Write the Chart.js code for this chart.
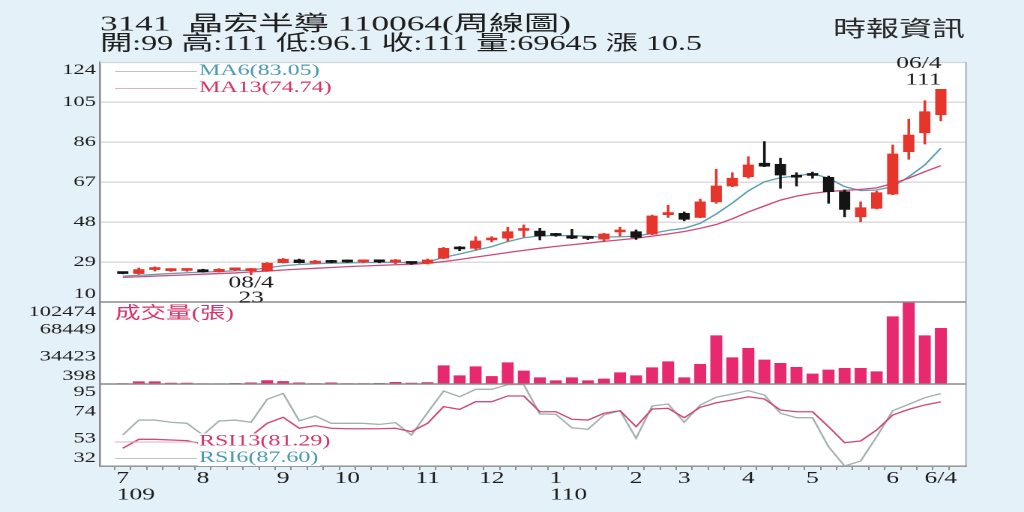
<!DOCTYPE html>
<html><head><meta charset="utf-8">
<script src="https://cdn.jsdelivr.net/npm/chart.js@4.4.1/dist/chart.umd.min.js"></script>
<style>
html,body{margin:0;padding:0;background:#e5f1f8;overflow:hidden;width:1024px;height:512px}
#wrap{position:absolute;left:0;top:0;width:683px;height:512px;transform:scaleX(1.49927);transform-origin:0 0}
canvas{display:block}
</style></head>
<body><div id="wrap"><canvas id="c" width="683" height="512"></canvas></div>
<script>
// ---------- data ----------
const monthIdx    = [0,5,10,14,19,23,27,32,35,39,43,48,51];
const monthLabels = ['7','8','9','10','11','12','1','2','3','4','5','6','6/4'];
const yearIdx     = [0,27];
const yearLabels  = ['109','110'];

const openP  = [24.0,23.5,25.4,24.9,25.0,25.2,24.4,25.3,24.9,24.9,28.7,30.0,28.5,29.5,29.8,29.1,29.2,29.0,28.6,28.4,30.8,35.8,35.5,39.5,40.3,44.0,43.7,42.0,41.4,40.5,39.9,43.3,43.4,42.3,51.5,52.1,50.2,57.6,65.1,69.5,75.9,75.4,69.7,70.5,69.2,62.4,50.5,54.5,61.3,81.4,90.4,99.0];
const highP  = [24.2,26.2,26.7,25.8,25.7,25.6,25.9,26.0,26.0,28.7,30.7,30.4,29.8,29.8,30.0,29.9,29.7,30.2,28.9,30.4,35.9,36.3,41.0,41.0,45.5,46.6,45.0,42.6,44.5,41.0,42.6,45.5,44.2,51.3,56.0,52.8,58.8,73.0,71.4,79.0,86.2,78.3,71.4,71.7,69.8,63.2,57.6,62.6,84.6,96.8,105.6,111.0];
const lowP   = [23.4,23.2,24.7,24.5,24.6,24.2,24.2,24.9,23.0,24.6,28.5,28.5,28.2,28.6,28.8,28.6,28.6,28.2,27.9,28.0,30.5,34.4,35.0,38.6,39.0,41.0,39.5,41.2,40.1,39.6,38.6,41.4,39.7,42.0,50.2,48.6,50.0,56.9,64.8,68.8,74.3,64.0,65.1,68.8,56.9,50.5,48.1,54.2,61.0,77.8,85.0,96.1];
const closeP = [23.5,25.4,25.6,25.1,25.1,24.4,25.5,25.6,25.1,28.4,30.3,28.7,29.4,28.8,29.0,29.2,29.1,29.1,28.3,30.0,35.5,35.2,39.0,40.0,43.4,44.5,41.4,41.6,40.3,40.2,42.3,44.0,40.7,50.9,52.3,49.3,57.6,65.1,68.8,75.1,74.5,70.3,69.3,70.1,62.4,54.0,54.8,61.9,80.3,89.3,100.4,111.0];
const ma6    = [22.3,22.7,23.1,23.5,23.9,24.2,24.5,24.8,25.2,26.2,27.2,27.8,28.2,28.4,28.6,28.7,28.8,28.8,28.7,29.0,31.2,32.8,34.6,36.3,38.7,40.5,41.4,41.6,41.5,41.2,40.8,41.0,41.3,42.6,44.0,45.0,47.4,51.8,57.0,62.8,67.1,69.0,69.9,71.0,68.8,64.8,62.9,63.2,64.8,69.5,75.1,83.05];
const ma13   = [21.7,22.0,22.3,22.6,22.9,23.2,23.5,23.8,24.3,24.7,25.2,25.6,26.0,26.4,26.8,27.1,27.4,27.7,27.9,28.4,29.2,30.2,31.3,32.4,33.5,34.5,35.5,36.4,37.2,38.0,38.8,39.5,40.3,41.3,42.3,43.5,45.0,46.8,49.5,52.8,55.6,58.4,60.3,61.6,62.5,63.0,63.5,64.2,66.3,68.8,71.9,74.74];
const volume = [900,3260,3260,1500,1500,700,700,1200,1800,4700,3600,1800,900,1800,900,900,1200,2500,1500,2100,23200,10730,21940,9860,26900,16580,8240,4500,8240,4500,6620,14500,10730,20700,28160,8240,24920,60520,33140,44840,30270,26170,21190,12850,17830,19940,19940,15700,84180,102474,60520,69645];
const rsi6   = [55.8,67.3,67.3,65.6,64.8,55.8,66.6,67.3,65.6,83.2,87.8,66.8,70.4,64.8,64.8,64.8,64.0,65.3,55.8,73.0,89.6,85.2,90.9,90.9,94.5,94.5,72.0,71.7,61.4,60.2,71.2,74.5,53.3,78.1,79.6,65.6,78.9,84.8,87.3,89.9,86.5,72.5,69.1,69.1,46.8,32.0,35.8,54.5,74.5,79.4,84.5,87.6];
const rsi13  = [45.6,52.5,52.5,52.0,51.5,48.9,52.0,52.5,55.0,64.8,69.4,61.0,63.0,61.0,60.6,60.6,60.6,61.0,58.4,64.8,77.6,75.5,81.4,81.4,85.8,85.8,73.7,73.7,67.9,67.3,72.5,74.5,62.2,75.8,76.3,69.1,77.1,80.6,82.7,85.2,83.5,75.0,73.7,73.7,62.2,49.9,51.2,59.7,71.2,75.5,78.9,81.29];

const priceTicks = [10,29,48,67,86,105,124];
const volTicks   = [398,34423,68449,102474];
const rsiTicks   = [32,53,74,95];

const titleText = '3141  晶宏半導 110064(周線圖)';
const infoText  = '開:99 高:111 低:96.1 收:111 量:69645 漲 10.5';
const sourceText = '時報資訊';
const hiDate = '06/4';
const loDate = '08/4';
const ma6Label = 'MA6(83.05)', ma13Label = 'MA13(74.74)';
const volLabel = '成交量(張)';
const rsi13Label = 'RSI13(81.29)', rsi6Label = 'RSI6(87.60)';

// ---------- styling ----------
const S = 1024/683;
const FONT = "'Liberation Serif','Noto Sans CJK TC',serif";
const RED = '#e8352c', BLACK = '#141414';
const TEAL = '#5f9fb1', PINK = '#cf4a7a', GREY = '#a3b2b0', VOLC = '#e8296f';
const TXT_TEAL = '#4a9ab3', TXT_PINK = '#d6336a';

const idx = openP.map((_, i) => i);
const candleColor = idx.map(i => closeP[i] >= openP[i] ? RED : BLACK);

function ySet(ticks) {
  return (scale) => { scale.ticks = ticks.map(v => ({value: v})); };
}

// draw text so that it spans a given width (the reference text is wider)
function fitText(ctx, text, x, y, width) {
  const w = ctx.measureText(text).width;
  ctx.save();
  ctx.translate(x, y);
  ctx.scale(width / w, 1);
  ctx.fillText(text, 0, 0);
  ctx.restore();
}

const deco = {
  id: 'deco',
  beforeDraw(chart) {
    const {ctx, chartArea: a} = chart;
    ctx.save();
    ctx.fillStyle = '#e5f1f8';
    ctx.fillRect(0, 0, chart.width, chart.height);
    ctx.fillStyle = '#ffffff';
    ctx.fillRect(a.left, a.top, a.right - a.left, a.bottom - a.top);
    ctx.restore();
  },
  afterDraw(chart) {
    const {ctx, chartArea: a} = chart;
    const yp = chart.scales.yp, yv = chart.scales.yv, yr = chart.scales.yr, x = chart.scales.x;
    ctx.save();
    // borders
    ctx.strokeStyle = '#cfd5d8'; ctx.lineWidth = 1.2;
    ctx.beginPath(); ctx.moveTo(a.left, a.top + 0.5); ctx.lineTo(a.right, a.top + 0.5); ctx.stroke();
    ctx.strokeStyle = '#8c8c8c'; ctx.lineWidth = 1.4;
    [yp.bottom, yv.bottom].forEach(yy => {
      ctx.beginPath(); ctx.moveTo(a.left, yy); ctx.lineTo(a.right, yy); ctx.stroke();
    });
    ctx.strokeStyle = '#9a9a9a'; ctx.lineWidth = 1.2 / S;
    ctx.beginPath(); ctx.moveTo(a.right, a.top); ctx.lineTo(a.right, a.bottom); ctx.stroke();

    // y tick labels
    ctx.fillStyle = '#1e1e1e';
    ctx.font = `15px ${FONT}`;
    ctx.textAlign = 'right'; ctx.textBaseline = 'middle';
    const xr = 96 / S;
    const lab = (scale, vals, topIn, botIn) => vals.forEach(v => {
      let yy = scale.getPixelForValue(v);
      yy = Math.max(scale.top + topIn, Math.min(scale.bottom - botIn, yy));
      ctx.fillText(String(v), xr, yy);
    });
    lab(yp, priceTicks, 8, 8);
    lab(yv, volTicks, 10, 8);
    lab(yr, rsiTicks, 8, 8);

    // header
    ctx.textAlign = 'left';
    ctx.font = `21px ${FONT}`;
    ctx.fillStyle = '#1e1e1e';
    fitText(ctx, titleText, 100 / S, 25, (571 - 100) / S);
    fitText(ctx, infoText, 100 / S, 44.5, (702 - 100) / S);
    ctx.font = `22px 'Noto Sans CJK TC',sans-serif`;
    ctx.fillStyle = '#2a2a2a';
    ctx.fillText(sourceText, 833 / S, 28);

    // legends
    const legend = (text, color, lineColor, yy, bg) => {
      ctx.strokeStyle = lineColor; ctx.lineWidth = 1.1;
      ctx.beginPath(); ctx.moveTo(115 / S, yy + 0.5); ctx.lineTo(197 / S, yy + 0.5); ctx.stroke();
      ctx.font = `16px ${FONT}`;
      const w = ctx.measureText(text).width;
      if (bg) { ctx.fillStyle = '#ffffff'; ctx.fillRect(198 / S, yy - 8, w + 2, 16); }
      ctx.fillStyle = color; ctx.textAlign = 'left';
      ctx.fillText(text, 199 / S, yy);
    };
    legend(ma6Label, TXT_TEAL, '#bcc6c9', 71, false);
    legend(ma13Label, TXT_PINK, '#dcb0c0', 88, false);
    legend(rsi13Label, TXT_PINK, '#e3aec0', 441.5, true);
    legend(rsi6Label, TXT_TEAL, '#bcc4c4', 458, true);
    ctx.font = `17px ${FONT}`;
    ctx.fillStyle = TXT_PINK;
    ctx.fillText(volLabel, 115 / S, 314);

    // high / low annotations
    let hi = 0, lo = 0;
    idx.forEach(i => { if (highP[i] > highP[hi]) hi = i; if (lowP[i] < lowP[lo]) lo = i; });
    ctx.fillStyle = '#1e1e1e';
    ctx.font = `17px ${FONT}`;
    const hx = x.getPixelForValue(hi), hy = yp.getPixelForValue(highP[hi]);
    ctx.textAlign = 'right';
    ctx.fillText(hiDate, hx + 0.5, hy - 26);
    ctx.fillText(String(highP[hi]), hx + 0.5, hy - 9.5);
    const lx = x.getPixelForValue(lo), ly = yp.getPixelForValue(lowP[lo]);
    ctx.textAlign = 'center';
    ctx.fillText(loDate, lx, ly + 8.5);
    ctx.fillText(String(lowP[lo]), lx, ly + 23.5);

    // year labels under month ticks
    ctx.textAlign = 'left';
    ctx.font = `17px ${FONT}`;
    yearIdx.forEach((v, k) => ctx.fillText(yearLabels[k], x.getPixelForValue(v) - 4, 495));
    ctx.restore();
  }
};

const common = {grouped: false, borderWidth: 0};

new Chart(document.getElementById('c'), {
  type: 'bar',
  data: {
    datasets: [
      Object.assign({type: 'bar', label: 'body', yAxisID: 'yp', order: 0,
        data: idx.map(i => ({x: i, y: [openP[i], closeP[i]]})),
        backgroundColor: candleColor, barThickness: 6.8, minBarLength: 2}, common),
      Object.assign({type: 'bar', label: 'wick', yAxisID: 'yp', order: 1,
        data: idx.map(i => ({x: i, y: [lowP[i], highP[i]]})),
        backgroundColor: candleColor, barThickness: 1.1}, common),
      {type: 'line', label: 'MA6', yAxisID: 'yp', order: 3,
        data: idx.map(i => ({x: i, y: ma6[i]})), borderColor: TEAL, borderWidth: 1.3, pointRadius: 0, tension: 0},
      {type: 'line', label: 'MA13', yAxisID: 'yp', order: 2,
        data: idx.map(i => ({x: i, y: ma13[i]})), borderColor: PINK, borderWidth: 1.3, pointRadius: 0, tension: 0},
      Object.assign({type: 'bar', label: 'vol', yAxisID: 'yv', order: 0,
        data: idx.map(i => ({x: i, y: [volTicks[0], volume[i]]})),
        backgroundColor: VOLC, barThickness: 7.3}, common),
      {type: 'line', label: 'RSI6', yAxisID: 'yr', order: 5,
        data: idx.map(i => ({x: i, y: rsi6[i]})), borderColor: GREY, borderWidth: 1.3, pointRadius: 0, tension: 0},
      {type: 'line', label: 'RSI13', yAxisID: 'yr', order: 4,
        data: idx.map(i => ({x: i, y: rsi13[i]})), borderColor: PINK, borderWidth: 1.3, pointRadius: 0, tension: 0}
    ]
  },
  options: {
    responsive: false,
    animation: false,
    devicePixelRatio: 2,
    layout: {padding: {left: 0, right: 683 - 966 / S, top: 62, bottom: 0}},
    plugins: {legend: {display: false}, tooltip: {enabled: false}},
    scales: {
      x: {
        type: 'linear', position: 'bottom', min: -0.9, max: 52.05, bounds: 'data',
        grid: {drawOnChartArea: false, drawTicks: true, tickLength: 4, color: '#777', lineWidth: 0.8},
        border: {display: true, color: '#8c8c8c', width: 1.4},
        afterBuildTicks: (s) => { s.ticks = idx.map(v => ({value: v})); },
        afterFit: (s) => { s.height = 46; },
        ticks: {autoSkip: false, maxRotation: 0, padding: 0, color: '#1e1e1e',
          font: {family: FONT, size: 17, lineHeight: 1},
          callback: (v) => { const k = monthIdx.indexOf(v); return k >= 0 ? monthLabels[k] : ''; }}
      },
      yr: {
        type: 'linear', position: 'left', stack: 'panels', stackWeight: 82,
        min: rsiTicks[0], max: rsiTicks[rsiTicks.length - 1], bounds: 'data',
        grid: {display: false}, ticks: {display: false},
        border: {display: true, color: '#8c8c8c', width: 1.3},
        afterBuildTicks: ySet(rsiTicks),
        afterFit: (s) => { s.width = 100 / S; }
      },
      yv: {
        type: 'linear', position: 'left', stack: 'panels', stackWeight: 82,
        min: volTicks[0], max: volTicks[volTicks.length - 1], bounds: 'data',
        grid: {display: false}, ticks: {display: false},
        border: {display: true, color: '#8c8c8c', width: 1.3},
        afterBuildTicks: ySet(volTicks),
        afterFit: (s) => { s.width = 100 / S; }
      },
      yp: {
        type: 'linear', position: 'left', stack: 'panels', stackWeight: 240,
        min: priceTicks[0], max: priceTicks[priceTicks.length - 1], bounds: 'data',
        grid: {drawTicks: false, lineWidth: 1.4,
          color: (c) => (c.tick && (c.tick.value === priceTicks[0] || c.tick.value === priceTicks[priceTicks.length - 1])) ? 'rgba(0,0,0,0)' : '#dadada'},
        ticks: {display: false},
        border: {display: true, color: '#8c8c8c', width: 1.3},
        afterBuildTicks: ySet(priceTicks),
        afterFit: (s) => { s.width = 100 / S; }
      }
    }
  },
  plugins: [deco]
});
</script>
</body></html>
